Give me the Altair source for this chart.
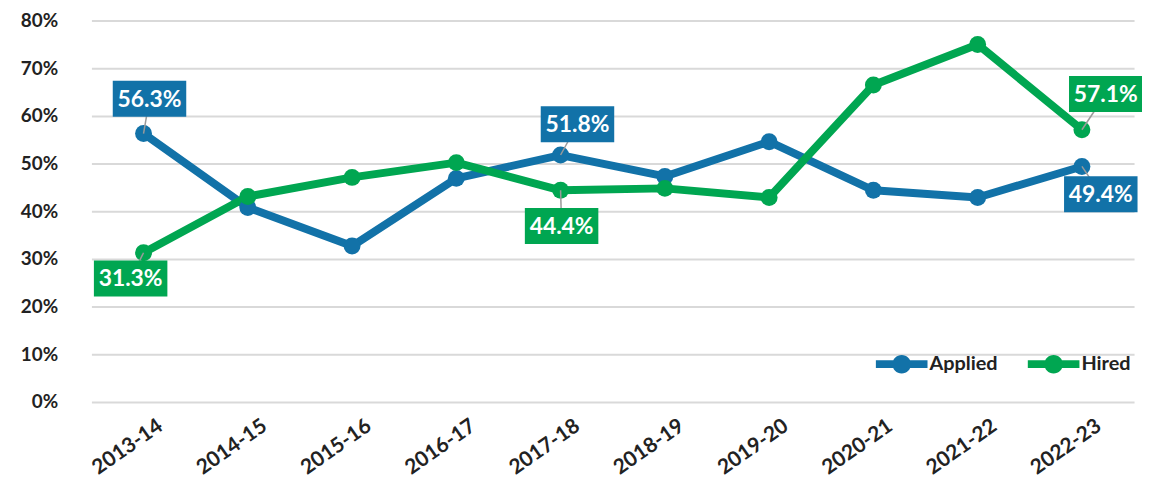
import altair as alt
import pandas as pd

years = ["2013-14", "2014-15", "2015-16", "2016-17", "2017-18",
         "2018-19", "2019-20", "2020-21", "2021-22", "2022-23"]
series_names = ["Applied", "Hired"]
applied = [56.3, 40.8, 32.7, 46.9, 51.8, 47.3, 54.6, 44.4, 42.9, 49.4]
hired = [31.3, 43.1, 47.1, 50.2, 44.4, 44.8, 42.9, 66.5, 75.0, 57.1]
colors = ["#1272a8", "#00a651"]
y_ticks = [0, 0.1, 0.2, 0.3, 0.4, 0.5, 0.6, 0.7, 0.8]

# callouts: (series, year)
callout_series = ["Applied", "Hired", "Applied", "Hired", "Hired", "Applied"]
callout_years = ["2013-14", "2013-14", "2017-18", "2017-18", "2022-23", "2022-23"]
# label box offsets in px (style)
callout_dx = [6, -13, 17, 1, 24, 19]
callout_dy = [-35, 26, -31, 36, -36, 28]

rows = []
for s, vals in zip(series_names, [applied, hired]):
    for yr, v in zip(years, vals):
        rows.append({"year": yr, "series": s, "value": v / 100.0})
df = pd.DataFrame(rows)

FONT = "Lato"
W, H = 1050, 384

xenc = alt.X("year:N", sort=years, title=None,
             axis=alt.Axis(labelAngle=-35, labelFontSize=21, labelColor="#222222",
                           labelFont=FONT, labelFontWeight="bold", labelPadding=13,
                           labelAlign="right", labelBaseline="top", labelOffset=11,
                           ticks=False, domain=False, grid=False))
yenc = alt.Y("value:Q", title=None,
             scale=alt.Scale(domain=[0, 0.8], nice=False),
             axis=alt.Axis(values=y_ticks, format=".0%", labelFontSize=19,
                           labelColor="#222222", labelFont=FONT, labelFontWeight="bold",
                           labelPadding=34, ticks=False, domain=False,
                           grid=True, gridColor="#d9d9d9", gridWidth=2))

cscale = alt.Scale(domain=series_names, range=colors)
base = alt.Chart(df).encode(x=xenc, y=yenc)

layers = []
for s, col in zip(series_names, colors):
    layers.append(base.transform_filter(alt.datum.series == s)
                  .mark_line(strokeWidth=8, color=col, strokeJoin="round"))

legend_shape = ("M-1,-0.15 L1,-0.15 L1,0.15 L-1,0.15 Z "
                "M-0.36,0 A0.36,0.36 0 1,1 0.36,0 A0.36,0.36 0 1,1 -0.36,0 Z")
points = base.mark_circle(size=290, opacity=1).encode(
    color=alt.Color("series:N", scale=cscale,
                    legend=alt.Legend(title=None, orient="none", direction="horizontal",
                                      legendX=790, legendY=320,
                                      symbolType=legend_shape, symbolSize=2704,
                                      symbolOpacity=1, symbolStrokeWidth=0,
                                      labelFontSize=20, labelFont=FONT,
                                      labelFontWeight="bold", labelColor="#222222",
                                      labelOffset=2, columnPadding=30)))
layers.append(points)

box_shape = "M-1,-0.49 L1,-0.49 L1,0.49 L-1,0.49 Z"
for s, yr, dx, dy in zip(callout_series, callout_years, callout_dx, callout_dy):
    col = colors[series_names.index(s)]
    sub = base.transform_filter(
        (alt.datum.series == s) & (alt.datum.year == yr))
    rule = sub.mark_rule(color="#9a9a9a", strokeWidth=1.5,
                         x2Offset=dx, y2Offset=dy).encode(
        x2=alt.X2("year:N"), y2=alt.Y2("value:Q"))
    box = sub.mark_point(shape=box_shape, size=74 * 74, filled=True, opacity=1,
                         color=col, strokeWidth=0, xOffset=dx, yOffset=dy)
    txt = sub.mark_text(dx=dx, dy=dy + 1, color="white", fontSize=23, font=FONT,
                        fontWeight="bold", align="center", baseline="middle").encode(
        text=alt.Text("value:Q", format=".1%"))
    layers += [rule, box, txt]

chart = alt.layer(*layers).properties(
    width=W, height=H,
    autosize=alt.AutoSizeParams(type="none"),
    padding={"left": 84, "top": 11, "right": 8, "bottom": 85},
).configure_view(stroke=None).configure_axis(labelFont=FONT)

chart.save("out.html", embed_options={"renderer": "svg", "actions": False})
